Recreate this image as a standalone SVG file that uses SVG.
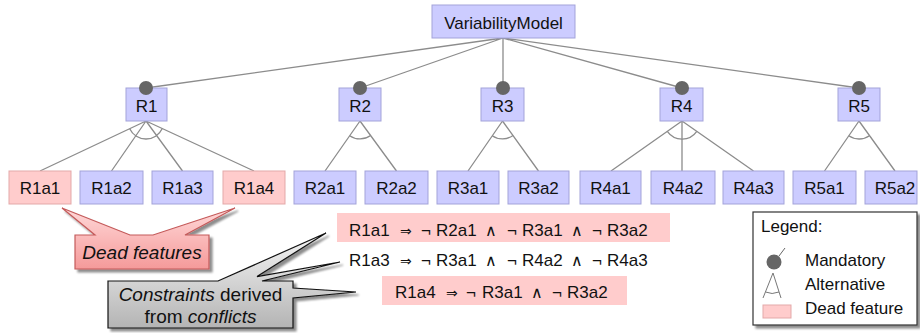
<svg xmlns="http://www.w3.org/2000/svg" width="920" height="333" viewBox="0 0 920 333">
  <defs>
    <style>
      text { font-family: "Liberation Sans", Arial, "DejaVu Sans", sans-serif; fill: #111; }
      .lbl { font-size: 17px; text-anchor: middle; }
      .con { font-size: 17px; }
      .sym { font-size: 14px; font-family: "DejaVu Sans", sans-serif; }
      .and { font-size: 16px; font-family: "DejaVu Sans", sans-serif; }
      .call { font-size: 19px; text-anchor: middle; }
      .feat { fill: #ccccff; stroke: #a3a3d9; stroke-width: 1; }
      .dead { fill: #ffcccc; stroke: #e3a9a9; stroke-width: 1; }
      .edge { stroke: #8c8c8c; stroke-width: 1.3; fill: none; }
      .arc { stroke: #8c8c8c; stroke-width: 1.3; fill: none; }
      .dot { fill: #666666; }
    </style>
    <linearGradient id="pinkGrad" x1="0" y1="0" x2="0" y2="1">
      <stop offset="0" stop-color="#ffd8d8"/>
      <stop offset="1" stop-color="#f59a9a"/>
    </linearGradient>
    <linearGradient id="grayGrad" x1="0" y1="0" x2="0" y2="1">
      <stop offset="0" stop-color="#f6f6f6"/>
      <stop offset="1" stop-color="#b4b4b4"/>
    </linearGradient>
    <filter id="shadow" x="-10%" y="-10%" width="130%" height="140%">
      <feGaussianBlur in="SourceAlpha" stdDeviation="1.2"/>
      <feOffset dx="2.5" dy="2.5" result="b"/>
      <feComponentTransfer><feFuncA type="linear" slope="0.45"/></feComponentTransfer>
      <feMerge><feMergeNode/><feMergeNode in="SourceGraphic"/></feMerge>
    </filter>
  </defs>

  <rect width="920" height="333" fill="#ffffff"/>

  <!-- connectors -->
  <g id="connectors">
    <!-- root to groups -->
    <path class="edge" d="M503 38 L146 88 M503 38 L360 88 M503 38 L503 88 M503 38 L682 88 M503 38 L859 88"/>
    <!-- R1 -->
    <path class="edge" d="M146 121 L40 171 M146 121 L111.5 171 M146 121 L182.5 171 M146 121 L254 171"/>
    <path class="arc" d="M129.7 128.7 A18 18 0 0 0 162.3 128.6"/>
    <!-- R2 -->
    <path class="edge" d="M360 121 L325 171 M360 121 L396.5 171"/>
    <path class="arc" d="M349.7 135.7 A18 18 0 0 0 370.6 135.5"/>
    <!-- R3 -->
    <path class="edge" d="M502.5 121 L468 171 M502.5 121 L538.5 171"/>
    <path class="arc" d="M492.2 135.7 A18 18 0 0 0 513 135.5"/>
    <!-- R4 -->
    <path class="edge" d="M682 121 L611 171 M682 121 L682 171 M682 121 L753.5 171"/>
    <path class="arc" d="M667.3 131.4 A18 18 0 0 0 696.8 131.3"/>
    <!-- R5 -->
    <path class="edge" d="M859 121 L824.5 171 M859 121 L895 171"/>
    <path class="arc" d="M848.8 135.8 A18 18 0 0 0 869.4 135.7"/>
  </g>

  <!-- root -->
  <g id="VariabilityModel">
    <rect class="feat" x="432" y="5" width="143" height="33"/>
    <text class="lbl" x="503.5" y="28.5">VariabilityModel</text>
  </g>

  <!-- groups -->
  <g id="R1"><rect class="feat" x="126" y="88" width="41" height="33"/><text class="lbl" x="146.5" y="112">R1</text></g>
  <g id="R2"><rect class="feat" x="339" y="88" width="42" height="33"/><text class="lbl" x="360" y="112">R2</text></g>
  <g id="R3"><rect class="feat" x="481" y="88" width="43" height="33"/><text class="lbl" x="502.5" y="112">R3</text></g>
  <g id="R4"><rect class="feat" x="660" y="88" width="43" height="33"/><text class="lbl" x="681.5" y="112">R4</text></g>
  <g id="R5"><rect class="feat" x="838" y="88" width="42" height="33"/><text class="lbl" x="859" y="112">R5</text></g>

  <!-- mandatory markers, drawn over the group boxes -->
  <g id="mandatory-markers">
    <circle class="dot" cx="146" cy="88" r="7"/>
    <circle class="dot" cx="360" cy="88" r="7"/>
    <circle class="dot" cx="503" cy="88" r="7"/>
    <circle class="dot" cx="682" cy="88" r="7"/>
    <circle class="dot" cx="859" cy="88" r="7"/>
  </g>

  <!-- leaf features -->
  <g id="R1a1"><rect class="dead" x="9" y="171" width="62" height="33"/><text class="lbl" x="40" y="194">R1a1</text></g>
  <g id="R1a2"><rect class="feat" x="80" y="171" width="63" height="33"/><text class="lbl" x="111.5" y="194">R1a2</text></g>
  <g id="R1a3"><rect class="feat" x="152" y="171" width="61" height="33"/><text class="lbl" x="182.5" y="194">R1a3</text></g>
  <g id="R1a4"><rect class="dead" x="223" y="171" width="62" height="33"/><text class="lbl" x="254" y="194">R1a4</text></g>
  <g id="R2a1"><rect class="feat" x="294" y="171" width="62" height="33"/><text class="lbl" x="325" y="194">R2a1</text></g>
  <g id="R2a2"><rect class="feat" x="365" y="171" width="63" height="33"/><text class="lbl" x="396.5" y="194">R2a2</text></g>
  <g id="R3a1"><rect class="feat" x="437" y="171" width="62" height="33"/><text class="lbl" x="468" y="194">R3a1</text></g>
  <g id="R3a2"><rect class="feat" x="508" y="171" width="61" height="33"/><text class="lbl" x="538.5" y="194">R3a2</text></g>
  <g id="R4a1"><rect class="feat" x="580" y="171" width="61" height="33"/><text class="lbl" x="610.5" y="194">R4a1</text></g>
  <g id="R4a2"><rect class="feat" x="651" y="171" width="64" height="33"/><text class="lbl" x="683" y="194">R4a2</text></g>
  <g id="R4a3"><rect class="feat" x="723" y="171" width="61" height="33"/><text class="lbl" x="753.5" y="194">R4a3</text></g>
  <g id="R5a1"><rect class="feat" x="793" y="171" width="63" height="33"/><text class="lbl" x="824.5" y="194">R5a1</text></g>
  <g id="R5a2"><rect class="feat" x="865" y="171" width="52" height="33"/><text class="lbl" x="895" y="194">R5a2</text></g>

  <!-- derived constraints -->
  <g id="constraints">
    <rect x="337" y="213" width="333" height="29" fill="#ffcccc"/>
    <text class="con" y="236"><tspan x="349">R1a1</tspan><tspan class="sym" x="400">⇒</tspan><tspan x="421">¬</tspan><tspan x="436">R2a1</tspan><tspan class="and" x="485">∧</tspan><tspan x="507">¬</tspan><tspan x="522">R3a1</tspan><tspan class="and" x="571">∧</tspan><tspan x="592">¬</tspan><tspan x="607">R3a2</tspan></text>
    <text class="con" y="266"><tspan x="349">R1a3</tspan><tspan class="sym" x="400">⇒</tspan><tspan x="421">¬</tspan><tspan x="436">R3a1</tspan><tspan class="and" x="485">∧</tspan><tspan x="507">¬</tspan><tspan x="522">R4a2</tspan><tspan class="and" x="571">∧</tspan><tspan x="592">¬</tspan><tspan x="607">R4a3</tspan></text>
    <rect x="382" y="276" width="245" height="29" fill="#ffcccc"/>
    <text class="con" y="298"><tspan x="395">R1a4</tspan><tspan class="sym" x="446">⇒</tspan><tspan x="466">¬</tspan><tspan x="482">R3a1</tspan><tspan class="and" x="531">∧</tspan><tspan x="552">¬</tspan><tspan x="567">R3a2</tspan></text>
  </g>

  <!-- callout: dead features -->
  <g id="deadCallout">
    <path filter="url(#shadow)" fill="url(#pinkGrad)" stroke="#c45a5a" stroke-width="1.2"
          d="M75 235 L95 235 L62 208 L130 235 L153 235 L235 208 L185 235 L209 235 L209 269 L75 269 Z"/>
    <text class="call" x="142" y="259" font-style="italic">Dead features</text>
  </g>

  <!-- callout: constraints -->
  <g id="constraintCallout">
    <path filter="url(#shadow)" fill="url(#grayGrad)" stroke="#111" stroke-width="1.2"
          d="M108 281 L218 281 L326 233 L257 276.6 L340 262 L262 281 L293 281 L293 288 L356 292 L293 298 L293 328 L108 328 Z"/>
    <text class="call" x="200.5" y="301"><tspan font-style="italic">Constraints</tspan> derived</text>
    <text class="call" x="200.5" y="323">from <tspan font-style="italic">conflicts</tspan></text>
  </g>

  <!-- legend -->
  <g id="legend">
    <rect x="753" y="212" width="164" height="113" fill="#ffffff" stroke="#333" stroke-width="1.2" filter="url(#shadow)"/>
    <text class="con" x="761" y="232">Legend:</text>
    <line x1="779" y1="256" x2="785" y2="248" stroke="#666" stroke-width="1"/>
    <circle class="dot" cx="774" cy="262" r="7.5"/>
    <text class="con" x="805" y="266">Mandatory</text>
    <path d="M763 298 L773 273 L781 298" fill="none" stroke="#777" stroke-width="1"/>
    <path d="M765.5 292 Q772 295 779 292" fill="none" stroke="#777" stroke-width="1"/>
    <text class="con" x="805" y="290">Alternative</text>
    <rect class="dead" x="763" y="305" width="28" height="13"/>
    <text class="con" x="805" y="314">Dead feature</text>
  </g>
</svg>
